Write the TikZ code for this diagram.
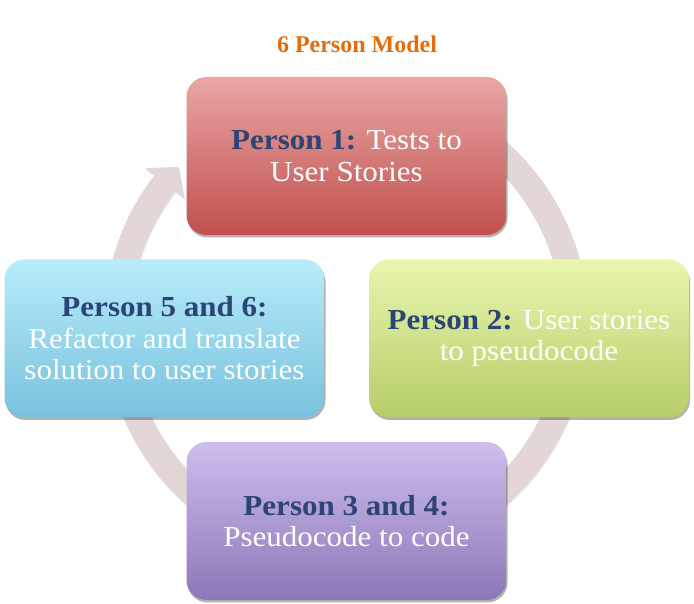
\documentclass[tikz,border=0pt]{standalone}
\usepackage{fontspec}
\setmainfont{Liberation Serif}[FakeStretch=1.07]
\newfontfamily\titlefont{Liberation Serif}
\usetikzlibrary{shadows}

\definecolor{ringgray}{RGB}{227,214,215}
\definecolor{whoblue}{RGB}{44,68,118}
\definecolor{titleorange}{RGB}{228,108,10}
\definecolor{redtop}{RGB}{233,167,165}
\definecolor{redbot}{RGB}{192,80,77}
\definecolor{greentop}{RGB}{232,245,175}
\definecolor{greenbot}{RGB}{181,206,104}
\definecolor{cyantop}{RGB}{183,236,250}
\definecolor{cyanbot}{RGB}{120,193,221}
\definecolor{violettop}{RGB}{205,190,238}
\definecolor{violetbot}{RGB}{141,119,183}

\tikzset{
  stage/.style={rounded corners=20pt, minimum width=320pt, minimum height=158pt,
    align=center, text=white, font=\fontsize{29}{31.5}\selectfont,
    drop shadow={shadow xshift=1pt, shadow yshift=-2.5pt, opacity=0.3, fill=black}},
}
\newcommand{\who}[1]{\textbf{\color{whoblue}#1}}

\begin{document}
\begin{tikzpicture}[x=1pt, y=1pt]
    \useasboundingbox (0,0) rectangle (694,604);

    % --- 1. Circular arrow behind the boxes ---
    \def\rin{216pt}
    \def\rout{242pt}
    \begin{scope}[shift={(346,281)}]
        \fill[ringgray, drop shadow={shadow xshift=1pt, shadow yshift=-1.5pt, opacity=0.12, fill=black}]
            (60:\rout) arc[start angle=60, end angle=-217.6, radius=\rout]
            -- (142.4:253.5pt) -- (137:229pt) -- (142.4:204.5pt) % arrow head
            -- (142.4:\rin) arc[start angle=-217.6, end angle=60, radius=\rin] -- cycle;
    \end{scope}

    % --- 2. Title ---
    \node[font=\titlefont\bfseries\fontsize{24}{28}\selectfont, text=titleorange, anchor=base]
        (title) at (357,551.7) {6 Person Model};

    % --- 3. The four stages ---
    \node[stage, top color=redtop, bottom color=redbot] (p1) at (346.5,448)
        {\who{Person 1:} Tests to\\User Stories};
    \node[stage, top color=greentop, bottom color=greenbot] (p2) at (529,265.5)
        {\who{Person 2:} User stories\\to pseudocode};
    \node[stage, top color=violettop, bottom color=violetbot] (p34) at (346.5,83)
        {\who{Person 3 and 4:}\\Pseudocode to code};
    \node[stage, top color=cyantop, bottom color=cyanbot] (p56) at (164.5,265.5)
        {\who{Person 5 and 6:}\\Refactor and translate\\solution to user stories};

\end{tikzpicture}
\end{document}
